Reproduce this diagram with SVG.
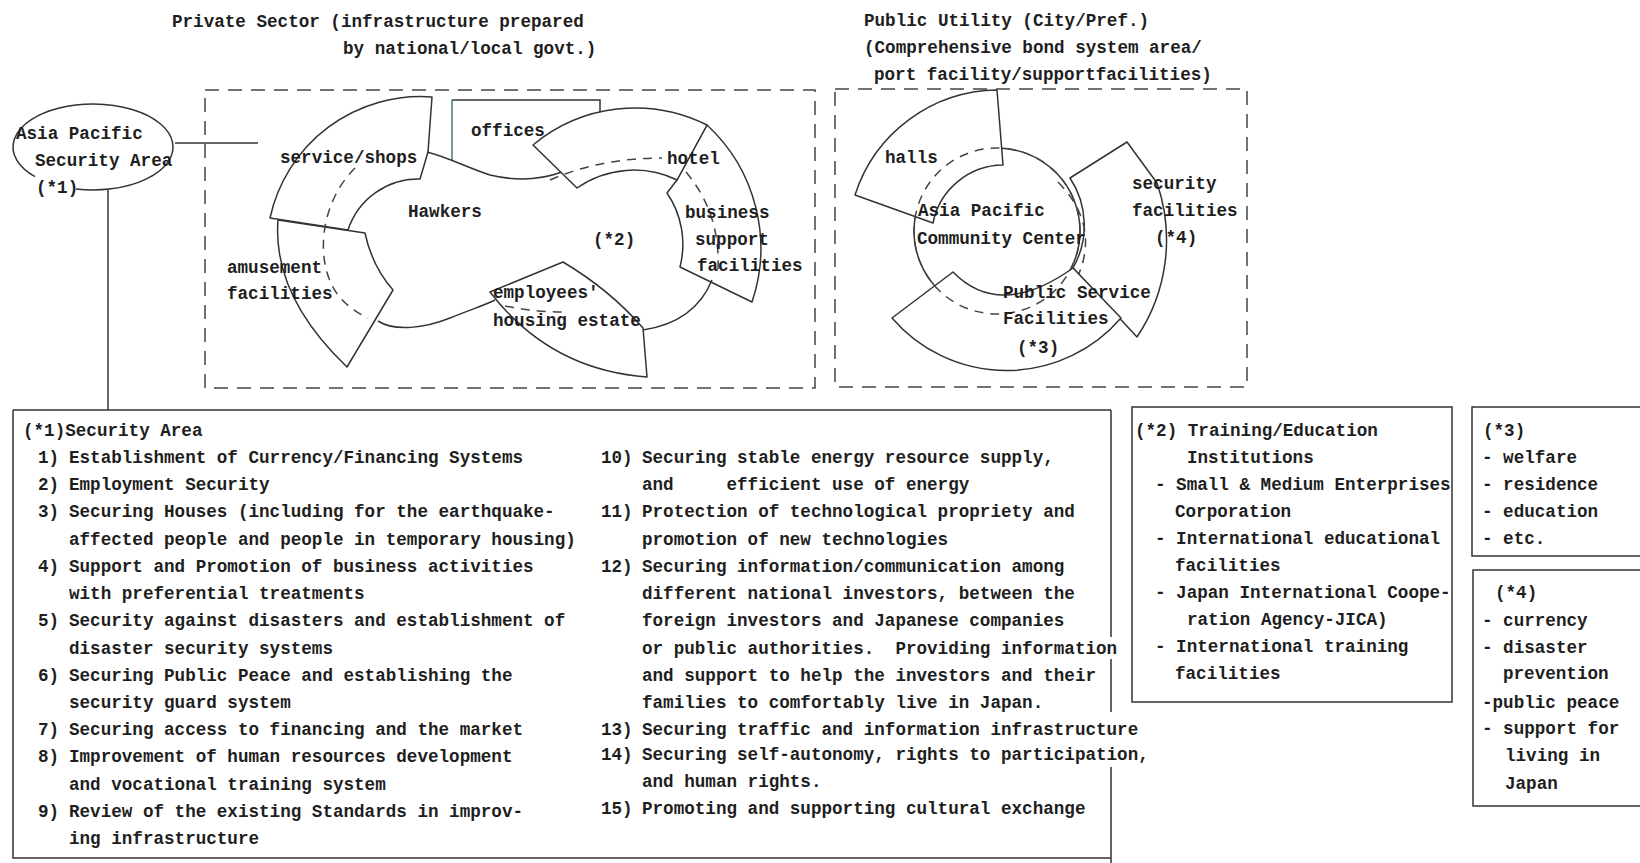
<svg xmlns="http://www.w3.org/2000/svg" width="1640" height="863" viewBox="0 0 1640 863">
<style>
.t{font-family:"Liberation Mono","DejaVu Sans Mono",monospace;font-size:17.6px;font-weight:bold;fill:#1e1e1e}
.ln{fill:none;stroke:#333;stroke-width:1.5}
.seg{fill:#fff;stroke:#333;stroke-width:1.5;stroke-linejoin:round}
.dsh{fill:none;stroke:#444;stroke-width:1.5;stroke-dasharray:9 7}
.box{fill:none;stroke:#444;stroke-width:1.5;stroke-dasharray:14 9}
</style>
<rect width="1640" height="863" fill="#fff"/>

<g id="titles">
<text class="t" x="172" y="27">Private Sector (infrastructure prepared</text>
<text class="t" x="343" y="54">by national/local govt.)</text>
<text class="t" x="864" y="26">Public Utility (City/Pref.)</text>
<text class="t" x="864" y="53">(Comprehensive bond system area/</text>
<text class="t" x="874" y="80">port facility/supportfacilities)</text>
</g>

<g id="private-sector-area">
<rect class="box" x="205" y="90" width="610" height="298"/>
</g>
<g id="public-utility-area">
<rect class="box" x="835" y="89" width="412" height="298"/>
</g>

<g id="connectors">
<line class="ln" x1="175" y1="143" x2="258" y2="143"/>
<line class="ln" x1="108" y1="190" x2="108" y2="410"/>
</g>

<g id="asia-pacific-security-area">
<path class="ln" d="M 76,189 A 80 43 0 1 0 35,176.6"/>
<text class="t" x="16" y="139">Asia Pacific</text>
<text class="t" x="35" y="166">Security Area</text>
<text class="t" x="36" y="193">(*1)</text>
</g>

<g id="amusement-facilities">
<path class="seg" d="M 278,220 L 365,233 Q 372,266 393,290 L 347,367 C 300,322 274,272 278,220 Z"/>
</g>
<g id="service-shops">
<path class="seg" d="M 432,97 A 154 154 0 0 0 270,218 L 348,230 A 74 74 0 0 1 420,179 L 428,152 Z"/>
</g>
<g id="offices">
<path class="ln" d="M 452,100 L 600,100 L 600,118"/>
<line x1="452" y1="100" x2="452" y2="160" stroke="#3d7f78" stroke-width="1.5"/>
<path class="ln" d="M 427,152 C 450,158 468,168 490,175 C 515,181 540,180 562,172"/>
</g>
<g id="business-support-facilities">
<path class="seg" d="M 707,125 A 168 168 0 0 1 752,302 L 680,267 A 91 91 0 0 0 667,193 L 677,180 Z"/>
</g>
<g id="hotel">
<path class="seg" d="M 533,145 A 160 160 0 0 1 707,125 L 677,180 A 99 99 0 0 0 577,188 Z"/>
</g>
<g id="employees-housing">
<path class="seg" d="M 563,262 L 490,292 Q 550,370 647,377 L 643,328 Q 610,290 563,262 Z"/>
</g>
<g id="hawkers">
<path class="ln" d="M 378,321 C 395,332 425,328 450,318 S 485,305 495,300"/>
<path class="ln" d="M 712,280 Q 695,322 643,330"/>
<path class="dsh" d="M 355,168 C 318,205 315,265 338,295 Q 350,310 368,318"/>
<path class="dsh" d="M 550,180 Q 600,158 662,158"/>
<path class="dsh" d="M 686,172 C 705,195 720,225 718,270"/>
<path class="dsh" d="M 505,306 Q 535,312 563,312"/>
<text class="t" x="471" y="136">offices</text>
<text class="t" x="280" y="163">service/shops</text>
<text class="t" x="667" y="164">hotel</text>
<text class="t" x="408" y="217">Hawkers</text>
<text class="t" x="593" y="245">(*2)</text>
<text class="t" x="685" y="218">business</text>
<text class="t" x="695" y="245">support</text>
<text class="t" x="697" y="271">facilities</text>
<text class="t" x="227" y="273">amusement</text>
<text class="t" x="227" y="299">facilities</text>
<text class="t" x="493" y="298">employees'</text>
<text class="t" x="493" y="326">housing estate</text>
</g>

<g id="community-center">
<circle class="ln" cx="997" cy="231" r="83"/>
</g>
<g id="halls">
<path class="seg" d="M 855,195 A 151 151 0 0 1 997,90 L 1003,165 A 72 72 0 0 0 933,223 Z"/>
</g>
<g id="security-facilities">
<path class="seg" d="M 1070,178 L 1127,142 L 1157,183 A 174.5 174.5 0 0 1 1137,337 L 1073,268 A 86 86 0 0 0 1070,178 Z"/>
<path class="dsh" d="M 1058,182 Q 1100,225 1078,276"/>
</g>
<g id="public-service-facilities">
<path class="seg" d="M 953,272 L 892,318 A 151 151 0 0 0 1121,318 L 1073,268 Q 1000,320 953,272 Z"/>
</g>
<g id="community-center-hidden">
<circle class="dsh" cx="997" cy="231" r="83"/>
<text class="t" x="885" y="163">halls</text>
<text class="t" x="918" y="216">Asia Pacific</text>
<text class="t" x="917" y="244">Community Center</text>
<text class="t" x="1132" y="189">security</text>
<text class="t" x="1132" y="216">facilities</text>
<text class="t" x="1155" y="243">(*4)</text>
<text class="t" x="1003" y="298">Public Service</text>
<text class="t" x="1003" y="324">Facilities</text>
<text class="t" x="1017" y="353">(*3)</text>
</g>

<g id="note1-security-area">
<path class="ln" d="M 13,410 L 1111,410 M 13,410 L 13,858 L 1111,858 M 1111,410 L 1111,637 M 1111,659 L 1111,712 M 1111,767 L 1111,863"/>
<text class="t" x="23" y="436">(*1)Security Area</text>
<text class="t" x="38" y="463">1)</text><text class="t" x="69" y="463">Establishment of Currency/Financing Systems</text>
<text class="t" x="38" y="490">2)</text><text class="t" x="69" y="490">Employment Security</text>
<text class="t" x="38" y="517">3)</text><text class="t" x="69" y="517">Securing Houses (including for the earthquake-</text>
<text class="t" x="69" y="545">affected people and people in temporary housing)</text>
<text class="t" x="38" y="572">4)</text><text class="t" x="69" y="572">Support and Promotion of business activities</text>
<text class="t" x="69" y="599">with preferential treatments</text>
<text class="t" x="38" y="626">5)</text><text class="t" x="69" y="626">Security against disasters and establishment of</text>
<text class="t" x="69" y="654">disaster security systems</text>
<text class="t" x="38" y="681">6)</text><text class="t" x="69" y="681">Securing Public Peace and establishing the</text>
<text class="t" x="69" y="708">security guard system</text>
<text class="t" x="38" y="735">7)</text><text class="t" x="69" y="735">Securing access to financing and the market</text>
<text class="t" x="38" y="762">8)</text><text class="t" x="69" y="762">Improvement of human resources development</text>
<text class="t" x="69" y="790">and vocational training system</text>
<text class="t" x="38" y="817">9)</text><text class="t" x="69" y="817">Review of the existing Standards in improv-</text>
<text class="t" x="69" y="844">ing infrastructure</text>

<text class="t" x="601" y="463">10)</text><text class="t" x="642" y="463">Securing stable energy resource supply,</text>
<text class="t" x="642" y="490" xml:space="preserve">and     efficient use of energy</text>
<text class="t" x="601" y="517">11)</text><text class="t" x="642" y="517">Protection of technological propriety and</text>
<text class="t" x="642" y="545">promotion of new technologies</text>
<text class="t" x="601" y="572">12)</text><text class="t" x="642" y="572">Securing information/communication among</text>
<text class="t" x="642" y="599">different national investors, between the</text>
<text class="t" x="642" y="626">foreign investors and Japanese companies</text>
<text class="t" x="642" y="654" xml:space="preserve">or public authorities.  Providing information</text>
<text class="t" x="642" y="681">and support to help the investors and their</text>
<text class="t" x="642" y="708">families to comfortably live in Japan.</text>
<text class="t" x="601" y="735">13)</text><text class="t" x="642" y="735">Securing traffic and information infrastructure</text>
<text class="t" x="601" y="760">14)</text><text class="t" x="642" y="760">Securing self-autonomy, rights to participation,</text>
<text class="t" x="642" y="787">and human rights.</text>
<text class="t" x="601" y="814">15)</text><text class="t" x="642" y="814">Promoting and supporting cultural exchange</text>
</g>

<g id="note2-training">
<rect class="ln" x="1132" y="407" width="320" height="295"/>
<text class="t" x="1135" y="436">(*2) Training/Education</text>
<text class="t" x="1187" y="463">Institutions</text>
<text class="t" x="1155" y="490">- Small &amp; Medium Enterprises</text>
<text class="t" x="1175" y="517">Corporation</text>
<text class="t" x="1155" y="544">- International educational</text>
<text class="t" x="1175" y="571">facilities</text>
<text class="t" x="1155" y="598">- Japan International Coope-</text>
<text class="t" x="1187" y="625">ration Agency-JICA)</text>
<text class="t" x="1155" y="652">- International training</text>
<text class="t" x="1175" y="679">facilities</text>
</g>

<g id="note3-public-service">
<path class="ln" d="M 1640,407 L 1472,407 L 1472,556 L 1640,556"/>
<text class="t" x="1483" y="436">(*3)</text>
<text class="t" x="1482" y="463">- welfare</text>
<text class="t" x="1482" y="490">- residence</text>
<text class="t" x="1482" y="517">- education</text>
<text class="t" x="1482" y="544">- etc.</text>
</g>

<g id="note4-security">
<path class="ln" d="M 1640,570 L 1473,570 L 1473,806 L 1640,806"/>
<text class="t" x="1495" y="598">(*4)</text>
<text class="t" x="1482" y="626">- currency</text>
<text class="t" x="1482" y="653">- disaster</text>
<text class="t" x="1503" y="679">prevention</text>
<text class="t" x="1482" y="708">-public peace</text>
<text class="t" x="1482" y="734">- support for</text>
<text class="t" x="1505" y="761">living in</text>
<text class="t" x="1505" y="789">Japan</text>
</g>
</svg>
